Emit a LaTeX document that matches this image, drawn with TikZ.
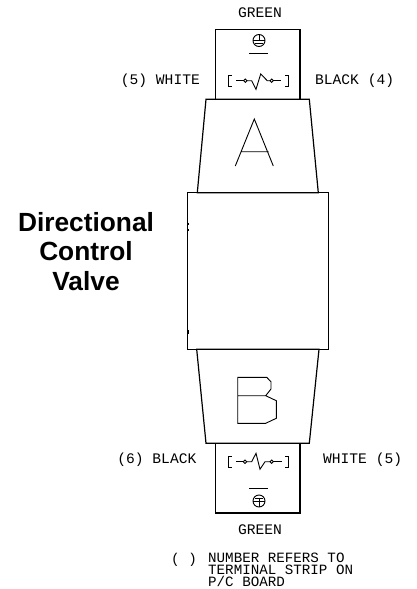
\documentclass[tikz,border=0pt]{standalone}
\usepackage{fontspec}
\setmainfont{Liberation Sans}
\newfontfamily\cadfont{Liberation Mono}
\usetikzlibrary{positioning}
\tikzset{
    wire/.style={draw, line width=.9pt},
    outline/.style={draw, line width=1.2pt},
    tick/.style={draw, line width=1.8pt},
    cadtext/.style={font=\cadfont\fontsize{14.6}{11.7}\selectfont, inner sep=0pt},
    notetext/.style={font=\cadfont\fontsize{14.2}{11.7}\selectfont, inner sep=0pt},
    titletext/.style={font=\bfseries\fontsize{26.3}{29.7}\selectfont, align=center, inner sep=0pt},
}
\begin{document}
\begin{tikzpicture}[x=1pt, y=-1pt]
        \useasboundingbox (0, 0) rectangle (417, 589);

        \draw[outline] (215.7, 99.3) -- (215.7, 29.3) -- (300, 29.3) -- (300, 99.3);
        \draw[outline] (206, 99.3) -- (309.3, 99.3) -- (318.3, 192.7) -- (197.3, 192.7) -- cycle;
        \draw[outline] (187.7, 192.7) rectangle (328.3, 349.3);
        \draw[outline] (196.7, 349.3) -- (319, 349.3) -- (309.3, 443.3) -- (206, 443.3) -- cycle;
        \draw[outline] (215.2, 443.3) -- (215.2, 513) -- (300, 513) -- (300, 443.3);
        \draw[line width=2pt] (251, 513) -- (265, 513);
        \draw[tick] (187.7, 222.5) -- (187.7, 224.5)
            (187.7, 229) -- (187.7, 231)
            (187.7, 329.5) -- (187.7, 334);

        % letters
        \draw[wire] (235.3, 166) -- (254.3, 119) -- (273.3, 166)
            (240.7, 151.7) -- (268.7, 151.7);
        \draw[wire] (237.7, 377.3) -- (266.7, 377.3) -- (271, 381.7) -- (271, 389) -- (265.7, 395.7)
            -- (276.3, 400.7) -- (276.3, 418.3) -- (265.7, 423.3) -- (237.7, 423.3) -- cycle
            (237.7, 395.7) -- (265.7, 395.7);

        % top switch
        \draw[wire] (231.7, 75) -- (228.7, 75) -- (228.7, 86.7) -- (231.7, 86.7)
            (285, 75) -- (288, 75) -- (288, 86.7) -- (285, 86.7);
        \draw[wire] (236, 80.7) -- (243.8, 80.7)
            (273.2, 80.7) -- (281, 80.7);
        \draw[wire] (246.8, 80.7) -- (251.7, 80.7) -- (256, 89.3) -- (260.7, 74) -- (267.3, 80.7) -- (270.2, 80.7);
        \draw[wire] (245.3, 80.7) circle (1.7) (271.7, 80.7) circle (1.7);

        % top ground
        \draw[wire] (259, 40.5) circle (6);
        \draw[wire] (253, 40.5) -- (265, 40.5)
            (259, 34.5) -- (259, 40.5)
            (255, 43.5) -- (263, 43.5);
        \draw[wire] (249.3, 53) -- (268.3, 53);

        % bottom switch
        \draw[wire] (231.7, 456) -- (228.7, 456) -- (228.7, 467.5) -- (231.7, 467.5)
            (285, 456) -- (288, 456) -- (288, 467.5) -- (285, 467.5);
        \draw[wire] (236, 461.7) -- (243.3, 461.7)
            (273.4, 461.7) -- (281.7, 461.7);
        \draw[wire] (246.7, 461.7) -- (251.7, 461.7) -- (256, 453.3) -- (260, 469.3) -- (265, 461.7) -- (270, 461.7);
        \draw[wire] (245, 461.7) circle (1.7) (271.7, 461.7) circle (1.7);

        % bottom ground
        \draw[wire] (249.3, 488.3) -- (268.3, 488.3);
        \draw[wire] (259, 501) circle (6);
        \draw[wire] (253, 501) -- (265, 501)
            (259, 498) -- (259, 507)
            (255, 498) -- (263, 498);

        \node[cadtext] (greentop) at (260, 12.7) {GREEN};
        \node[cadtext] (greenbottom) at (260, 530) {GREEN};
        \node[cadtext, anchor=east] (whitetop) at (200, 80.5) {(5) WHITE};
        \node[cadtext, anchor=west] (blacktop) at (315, 80.5) {BLACK (4)};
        \node[cadtext, anchor=east] (blackbottom) at (196.5, 460) {(6) BLACK};
        \node[cadtext, anchor=west] (whitebottom) at (323, 460) {WHITE (5)};

        \node[titletext] (title) at (86, 251.5) {Directional\\Control\\Valve};

        \node[notetext, anchor=north west, align=left] (note) at (208, 553) {NUMBER REFERS TO\\TERMINAL STRIP ON\\P/C BOARD};
        \node[notetext, left=11pt of note.north west, anchor=north east] (brackets) {( )};
    \end{tikzpicture}
\end{document}
